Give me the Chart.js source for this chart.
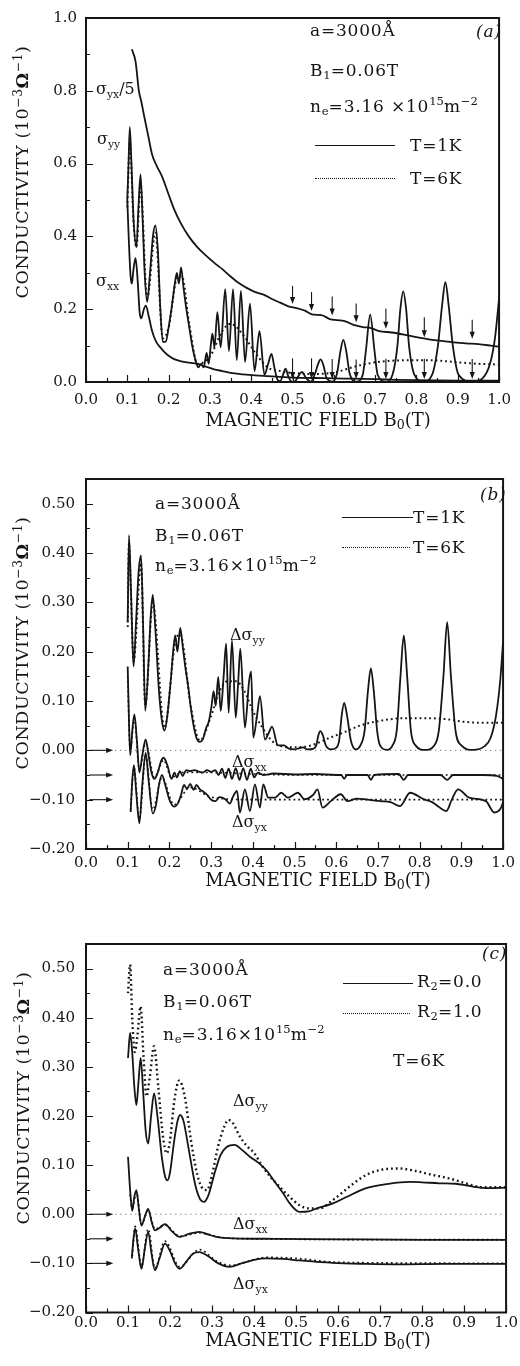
<!DOCTYPE html>
<html>
<head>
<meta charset="utf-8">
<script src="https://cdn.jsdelivr.net/npm/chart.js@4.4.1/dist/chart.umd.min.js"></script>
<style>
body{margin:0;background:#fff;width:520px;height:1366px;position:relative;overflow:hidden;font-family:"DejaVu Serif",serif;color:#151515}
.pane{position:absolute;left:0}
.t{position:absolute;white-space:nowrap;transform:translateY(-50%);font-size:17px;line-height:1;letter-spacing:0.8px}
.t sub{font-size:68%;vertical-align:-0.3em;letter-spacing:0}
.t sup{font-size:68%;vertical-align:0.55em;letter-spacing:0}
.s{font-size:16px;letter-spacing:0}
.it{font-style:italic}
.ytitle{position:absolute;white-space:nowrap;font-size:17.5px;line-height:1;letter-spacing:0.6px;transform:translate(-50%,-50%) rotate(-90deg)}
.ytitle sup{font-size:70%;vertical-align:0.5em}
.xtitle{position:absolute;white-space:nowrap;font-size:18px;line-height:1;transform:translate(-50%,-50%)}
.xtitle sub{font-size:70%;vertical-align:-0.25em}
.leg{position:absolute;height:0;border-top:1.3px solid #151515}
.leg.dot{border-top:1.3px dotted #151515}
</style>
</head>
<body>

<canvas id="chartA" class="pane" width="520" height="412" style="top:0px"></canvas>
<canvas id="chartB" class="pane" width="520" height="440" style="top:440px"></canvas>
<canvas id="chartC" class="pane" width="520" height="440" style="top:900px"></canvas>

<!-- panel (a) texts -->
<div class="ytitle" style="left:22px;top:172px">CONDUCTIVITY (10<sup>−3</sup><b>Ω</b><sup>−1</sup>)</div>
<div class="xtitle" style="left:318px;top:421px">MAGNETIC FIELD B<sub>0</sub>(T)</div>
<div class="t" style="left:310px;top:30px">a=3000Å</div>
<div class="t it" style="left:476px;top:31px">(a)</div>
<div class="t" style="left:310px;top:72px">B<sub>1</sub>=0.06T</div>
<div class="t" style="left:310px;top:107px">n<sub>e</sub>=3.16 ×10<sup>15</sup>m<sup>−2</sup></div>
<div class="leg" style="left:315px;top:145px;width:80px"></div>
<div class="t" style="left:410px;top:145px">T=1K</div>
<div class="leg dot" style="left:315px;top:178px;width:80px"></div>
<div class="t" style="left:410px;top:178px">T=6K</div>
<div class="t s" style="left:96px;top:91px">σ<sub>yx</sub>/5</div>
<div class="t s" style="left:97px;top:141px">σ<sub>yy</sub></div>
<div class="t s" style="left:96px;top:283px">σ<sub>xx</sub></div>

<!-- panel (b) texts -->
<div class="ytitle" style="left:22px;top:643px">CONDUCTIVITY (10<sup>−3</sup><b>Ω</b><sup>−1</sup>)</div>
<div class="xtitle" style="left:318px;top:881px">MAGNETIC FIELD B<sub>0</sub>(T)</div>
<div class="t" style="left:155px;top:503px">a=3000Å</div>
<div class="t" style="left:155px;top:537px">B<sub>1</sub>=0.06T</div>
<div class="t" style="left:155px;top:566px">n<sub>e</sub>=3.16×10<sup>15</sup>m<sup>−2</sup></div>
<div class="t it" style="left:480px;top:494px">(b)</div>
<div class="leg" style="left:342px;top:517px;width:71px"></div>
<div class="t" style="left:413px;top:517px">T=1K</div>
<div class="leg dot" style="left:342px;top:547px;width:68px"></div>
<div class="t" style="left:413px;top:547px">T=6K</div>
<div class="t s" style="left:230px;top:637px">Δσ<sub>yy</sub></div>
<div class="t s" style="left:232px;top:764px">Δσ<sub>xx</sub></div>
<div class="t s" style="left:232px;top:824px">Δσ<sub>yx</sub></div>

<!-- panel (c) texts -->
<div class="ytitle" style="left:23px;top:1098px">CONDUCTIVITY (10<sup>−3</sup><b>Ω</b><sup>−1</sup>)</div>
<div class="xtitle" style="left:318px;top:1341px">MAGNETIC FIELD B<sub>0</sub>(T)</div>
<div class="t" style="left:163px;top:969px">a=3000Å</div>
<div class="t" style="left:163px;top:1003px">B<sub>1</sub>=0.06T</div>
<div class="t" style="left:163px;top:1035px">n<sub>e</sub>=3.16×10<sup>15</sup>m<sup>−2</sup></div>
<div class="t it" style="left:482px;top:953px">(c)</div>
<div class="leg" style="left:343px;top:983px;width:70px"></div>
<div class="t" style="left:417px;top:983px">R<sub>2</sub>=0.0</div>
<div class="leg dot" style="left:343px;top:1013px;width:67px"></div>
<div class="t" style="left:417px;top:1013px">R<sub>2</sub>=1.0</div>
<div class="t" style="left:393px;top:1060px">T=6K</div>
<div class="t s" style="left:233px;top:1103px">Δσ<sub>yy</sub></div>
<div class="t s" style="left:233px;top:1226px">Δσ<sub>xx</sub></div>
<div class="t s" style="left:233px;top:1286px">Δσ<sub>yx</sub></div>

<script>
// ---- panel (a): conductivities vs B0, [B0 (T), value] ----
const aSyx5 = [[0.111,0.914],[0.120,0.880],[0.128,0.800],[0.134,0.770],[0.140,0.735],[0.150,0.680],[0.160,0.625],[0.172,0.592],[0.184,0.565],[0.200,0.515],[0.215,0.470],[0.230,0.435],[0.250,0.398],[0.270,0.370],[0.290,0.348],[0.310,0.328],[0.330,0.310],[0.350,0.290],[0.370,0.272],[0.390,0.258],[0.410,0.247],[0.430,0.240],[0.450,0.228],[0.470,0.218],[0.490,0.208],[0.510,0.203],[0.530,0.196],[0.550,0.185],[0.570,0.184],[0.590,0.173],[0.610,0.170],[0.630,0.166],[0.650,0.156],[0.670,0.151],[0.690,0.148],[0.710,0.140],[0.740,0.136],[0.770,0.130],[0.800,0.123],[0.830,0.117],[0.860,0.113],[0.890,0.109],[0.920,0.106],[0.950,0.104],[0.980,0.100],[1.000,0.097]];
const aSyyT1 = [[0.100,0.50],[0.103,0.60],[0.106,0.70],[0.110,0.60],[0.115,0.45],[0.122,0.37],[0.127,0.48],[0.132,0.57],[0.137,0.45],[0.142,0.30],[0.148,0.22],[0.155,0.30],[0.162,0.40],[0.168,0.43],[0.174,0.36],[0.180,0.20],[0.186,0.11],[0.193,0.11],[0.200,0.15],[0.208,0.21],[0.215,0.27],[0.220,0.30],[0.225,0.27],[0.230,0.315],[0.236,0.26],[0.243,0.20],[0.250,0.15],[0.257,0.10],[0.265,0.06],[0.272,0.04],[0.278,0.05],[0.285,0.04],[0.292,0.08],[0.297,0.05],[0.302,0.10],[0.306,0.133],[0.311,0.095],[0.318,0.192],[0.326,0.095],[0.337,0.255],[0.346,0.085],[0.356,0.255],[0.365,0.06],[0.375,0.25],[0.385,0.055],[0.397,0.215],[0.408,0.03],[0.420,0.14],[0.432,0.02],[0.441,0.05],[0.449,0.077],[0.456,0.04],[0.463,0.008],[0.470,0.002],[0.477,0.02],[0.483,0.037],[0.490,0.015],[0.497,0.002],[0.505,0.001],[0.515,0.018],[0.523,0.028],[0.532,0.012],[0.544,0.001],[0.555,0.025],[0.562,0.050],[0.568,0.062],[0.575,0.045],[0.582,0.012],[0.596,0.001],[0.608,0.025],[0.616,0.085],[0.623,0.116],[0.630,0.085],[0.638,0.025],[0.655,0.001],[0.670,0.020],[0.678,0.090],[0.688,0.185],[0.698,0.090],[0.706,0.020],[0.726,0.001],[0.742,0.020],[0.754,0.100],[0.761,0.200],[0.768,0.249],[0.775,0.200],[0.782,0.100],[0.795,0.020],[0.817,0.001],[0.838,0.020],[0.852,0.100],[0.862,0.210],[0.870,0.274],[0.878,0.210],[0.888,0.100],[0.902,0.020],[0.936,0.001],[0.960,0.010],[0.978,0.050],[0.990,0.120],[1.000,0.230]];
const aSyyT6 = [[0.100,0.48],[0.106,0.66],[0.115,0.44],[0.122,0.37],[0.132,0.54],[0.148,0.23],[0.168,0.41],[0.186,0.12],[0.200,0.15],[0.222,0.29],[0.232,0.29],[0.250,0.16],[0.270,0.05],[0.300,0.07],[0.330,0.14],[0.350,0.16],[0.380,0.13],[0.410,0.08],[0.440,0.040],[0.470,0.030],[0.500,0.025],[0.550,0.022],[0.600,0.026],[0.650,0.042],[0.700,0.054],[0.750,0.059],[0.800,0.060],[0.850,0.059],[0.900,0.054],[0.950,0.050],[1.000,0.048]];
const aSxxT1 = [[0.100,0.50],[0.104,0.38],[0.108,0.29],[0.111,0.27],[0.115,0.31],[0.120,0.34],[0.125,0.28],[0.130,0.19],[0.134,0.175],[0.140,0.20],[0.145,0.21],[0.152,0.18],[0.160,0.14],[0.170,0.11],[0.180,0.095],[0.190,0.082],[0.200,0.072],[0.215,0.062],[0.230,0.057],[0.250,0.053],[0.270,0.050],[0.290,0.042],[0.310,0.035],[0.330,0.030],[0.350,0.025],[0.380,0.021],[0.410,0.018],[0.440,0.016],[0.470,0.014],[0.500,0.012],[0.550,0.011],[0.600,0.010],[0.650,0.009],[0.700,0.008],[0.750,0.006],[0.800,0.005],[0.900,0.004],[1.000,0.004]];
// arrows in (a): B0 positions, start and end values
const aArrowB = [0.500, 0.546, 0.596, 0.654, 0.726, 0.819, 0.935];
const aArrowUpFrom = [0.264, 0.247, 0.235, 0.216, 0.202, 0.178, 0.171];
const aArrowUpTo = [0.214, 0.195, 0.183, 0.164, 0.146, 0.123, 0.119];
const aArrowLowFrom = [0.065, 0.065, 0.063, 0.062, 0.064, 0.064, 0.063];
const aArrowLowTo = [0.008, 0.008, 0.008, 0.008, 0.008, 0.008, 0.008];

// ---- panel (b): T=1K and T=6K ----
const bYyT1 = [[0.100,0.26],[0.103,0.436],[0.108,0.32],[0.114,0.17],[0.120,0.26],[0.126,0.36],[0.132,0.395],[0.137,0.25],[0.142,0.08],[0.150,0.18],[0.155,0.27],[0.160,0.315],[0.166,0.25],[0.175,0.12],[0.182,0.06],[0.188,0.04],[0.195,0.07],[0.203,0.14],[0.210,0.21],[0.214,0.233],[0.219,0.20],[0.226,0.248],[0.232,0.21],[0.239,0.163],[0.245,0.13],[0.251,0.088],[0.258,0.05],[0.265,0.025],[0.273,0.017],[0.280,0.022],[0.288,0.045],[0.295,0.06],[0.301,0.09],[0.306,0.12],[0.311,0.09],[0.317,0.149],[0.323,0.08],[0.330,0.15],[0.336,0.216],[0.342,0.076],[0.350,0.223],[0.359,0.066],[0.365,0.14],[0.370,0.206],[0.381,0.046],[0.391,0.14],[0.396,0.16],[0.401,0.026],[0.410,0.07],[0.417,0.11],[0.429,0.022],[0.438,0.035],[0.446,0.048],[0.460,0.010],[0.475,0.010],[0.485,0.004],[0.500,0.002],[0.510,0.004],[0.520,0.006],[0.530,0.002],[0.545,0.003],[0.552,0.010],[0.557,0.030],[0.562,0.039],[0.568,0.030],[0.575,0.010],[0.587,0.002],[0.600,0.005],[0.607,0.020],[0.613,0.070],[0.619,0.096],[0.626,0.070],[0.635,0.020],[0.647,0.002],[0.658,0.010],[0.668,0.040],[0.676,0.120],[0.683,0.166],[0.690,0.120],[0.698,0.040],[0.705,0.010],[0.722,0.001],[0.735,0.010],[0.745,0.040],[0.754,0.150],[0.762,0.233],[0.770,0.150],[0.779,0.040],[0.790,0.010],[0.813,0.001],[0.835,0.010],[0.846,0.040],[0.857,0.150],[0.866,0.260],[0.875,0.150],[0.886,0.040],[0.900,0.010],[0.928,0.001],[0.955,0.008],[0.970,0.025],[0.983,0.070],[0.993,0.140],[1.000,0.220]];
const bYyT6 = [[0.100,0.25],[0.103,0.42],[0.108,0.31],[0.114,0.18],[0.132,0.38],[0.142,0.09],[0.160,0.30],[0.188,0.045],[0.214,0.22],[0.226,0.235],[0.251,0.09],[0.273,0.02],[0.300,0.07],[0.320,0.12],[0.340,0.14],[0.360,0.14],[0.380,0.12],[0.400,0.08],[0.420,0.05],[0.445,0.02],[0.470,0.008],[0.500,0.006],[0.540,0.010],[0.580,0.024],[0.620,0.037],[0.660,0.051],[0.700,0.059],[0.760,0.065],[0.820,0.065],[0.866,0.063],[0.904,0.058],[0.950,0.056],[1.000,0.056]];
const bXxT1 = [[0.100,0.17],[0.103,0.06],[0.106,-0.01],[0.111,0.04],[0.116,0.073],[0.122,0.02],[0.128,-0.045],[0.135,-0.01],[0.143,0.022],[0.150,-0.01],[0.157,-0.045],[0.164,-0.058],[0.172,-0.045],[0.180,-0.022],[0.186,-0.015],[0.195,-0.03],[0.205,-0.058],[0.212,-0.045],[0.218,-0.055],[0.225,-0.042],[0.232,-0.052],[0.240,-0.040],[0.250,-0.042],[0.260,-0.040],[0.270,-0.043],[0.280,-0.045],[0.290,-0.040],[0.300,-0.044],[0.310,-0.040],[0.318,-0.050],[0.326,-0.037],[0.334,-0.056],[0.342,-0.037],[0.350,-0.058],[0.359,-0.036],[0.368,-0.060],[0.377,-0.036],[0.386,-0.060],[0.395,-0.037],[0.403,-0.055],[0.412,-0.045],[0.425,-0.050],[0.450,-0.047],[0.500,-0.049],[0.550,-0.048],[0.600,-0.050],[0.612,-0.050],[0.619,-0.058],[0.626,-0.050],[0.675,-0.050],[0.683,-0.060],[0.691,-0.050],[0.750,-0.048],[0.762,-0.060],[0.772,-0.050],[0.850,-0.050],[0.866,-0.060],[0.880,-0.050],[0.950,-0.050],[0.985,-0.052],[1.000,-0.058]];
const bXxT6 = [[0.100,0.15],[0.106,0.00],[0.116,0.065],[0.128,-0.04],[0.143,0.015],[0.164,-0.055],[0.186,-0.02],[0.205,-0.055],[0.230,-0.045],[0.300,-0.045],[0.400,-0.048],[0.500,-0.050],[1.000,-0.050]];
const bYxT1 = [[0.107,-0.125],[0.111,-0.06],[0.115,-0.03],[0.120,-0.08],[0.128,-0.148],[0.135,-0.07],[0.143,-0.005],[0.150,-0.06],[0.160,-0.128],[0.168,-0.11],[0.175,-0.07],[0.182,-0.05],[0.190,-0.07],[0.200,-0.10],[0.211,-0.114],[0.220,-0.108],[0.228,-0.09],[0.235,-0.07],[0.242,-0.078],[0.250,-0.068],[0.258,-0.08],[0.265,-0.07],[0.272,-0.078],[0.280,-0.083],[0.290,-0.09],[0.300,-0.10],[0.310,-0.103],[0.320,-0.095],[0.334,-0.099],[0.345,-0.108],[0.352,-0.095],[0.362,-0.082],[0.369,-0.126],[0.381,-0.079],[0.393,-0.123],[0.405,-0.069],[0.417,-0.116],[0.425,-0.069],[0.437,-0.096],[0.453,-0.096],[0.468,-0.086],[0.484,-0.096],[0.508,-0.086],[0.524,-0.099],[0.545,-0.09],[0.555,-0.079],[0.567,-0.116],[0.587,-0.103],[0.611,-0.089],[0.627,-0.103],[0.650,-0.098],[0.666,-0.099],[0.706,-0.103],[0.730,-0.105],[0.753,-0.113],[0.777,-0.086],[0.809,-0.099],[0.830,-0.105],[0.848,-0.116],[0.864,-0.123],[0.877,-0.10],[0.892,-0.079],[0.919,-0.096],[0.959,-0.103],[0.979,-0.126],[0.994,-0.118],[1.000,-0.105]];
const bYxT6 = [[0.107,-0.12],[0.115,-0.035],[0.128,-0.14],[0.143,-0.01],[0.160,-0.12],[0.182,-0.055],[0.211,-0.11],[0.250,-0.075],[0.300,-0.095],[0.400,-0.100],[0.500,-0.100],[0.700,-0.100],[1.000,-0.100]];

// ---- panel (c): T=6K, R2=0.0 and R2=1.0 ----
const cYyR0 = [[0.100,0.318],[0.105,0.369],[0.110,0.33],[0.115,0.26],[0.120,0.222],[0.125,0.27],[0.130,0.318],[0.136,0.25],[0.142,0.17],[0.148,0.144],[0.155,0.20],[0.162,0.246],[0.170,0.20],[0.180,0.12],[0.188,0.078],[0.194,0.069],[0.200,0.085],[0.210,0.15],[0.218,0.19],[0.224,0.202],[0.232,0.19],[0.245,0.13],[0.260,0.06],[0.272,0.03],[0.281,0.025],[0.292,0.04],[0.305,0.08],[0.320,0.12],[0.335,0.137],[0.354,0.141],[0.370,0.132],[0.390,0.117],[0.410,0.105],[0.429,0.090],[0.450,0.065],[0.469,0.043],[0.485,0.022],[0.508,0.005],[0.530,0.006],[0.550,0.012],[0.588,0.022],[0.620,0.035],[0.667,0.053],[0.720,0.062],[0.770,0.066],[0.800,0.065],[0.841,0.063],[0.880,0.062],[0.904,0.059],[0.930,0.055],[0.952,0.053],[1.000,0.054]];
const cYyR1 = [[0.100,0.45],[0.105,0.508],[0.110,0.40],[0.116,0.33],[0.122,0.36],[0.130,0.423],[0.137,0.32],[0.144,0.24],[0.152,0.28],[0.162,0.342],[0.172,0.26],[0.183,0.16],[0.192,0.124],[0.200,0.15],[0.210,0.23],[0.222,0.272],[0.235,0.24],[0.250,0.15],[0.265,0.08],[0.278,0.052],[0.288,0.049],[0.300,0.08],[0.315,0.14],[0.330,0.18],[0.339,0.192],[0.350,0.185],[0.365,0.16],[0.385,0.137],[0.400,0.125],[0.421,0.096],[0.440,0.075],[0.461,0.056],[0.485,0.035],[0.509,0.018],[0.530,0.012],[0.556,0.012],[0.588,0.029],[0.627,0.056],[0.667,0.080],[0.706,0.091],[0.746,0.093],[0.785,0.088],[0.825,0.080],[0.864,0.073],[0.904,0.063],[0.943,0.055],[1.000,0.055]];
const cXxR0 = [[0.100,0.117],[0.105,0.05],[0.110,0.007],[0.115,0.035],[0.120,0.049],[0.126,0.01],[0.132,-0.023],[0.140,-0.005],[0.148,0.011],[0.156,-0.015],[0.164,-0.033],[0.175,-0.028],[0.188,-0.02],[0.205,-0.035],[0.223,-0.046],[0.245,-0.04],[0.270,-0.036],[0.290,-0.041],[0.310,-0.046],[0.350,-0.049],[0.450,-0.050],[0.600,-0.051],[0.800,-0.052],[1.000,-0.052]];
const cXxR1 = [[0.105,0.04],[0.110,0.012],[0.120,0.045],[0.132,-0.02],[0.148,0.008],[0.164,-0.03],[0.188,-0.022],[0.223,-0.045],[0.270,-0.038],[0.320,-0.047],[0.400,-0.050],[1.000,-0.052]];
const cYxR0 = [[0.109,-0.09],[0.113,-0.05],[0.117,-0.029],[0.124,-0.07],[0.132,-0.111],[0.140,-0.07],[0.148,-0.036],[0.156,-0.08],[0.164,-0.114],[0.175,-0.09],[0.188,-0.06],[0.200,-0.075],[0.212,-0.10],[0.223,-0.111],[0.240,-0.095],[0.255,-0.08],[0.270,-0.077],[0.290,-0.085],[0.315,-0.10],[0.342,-0.107],[0.370,-0.10],[0.400,-0.093],[0.429,-0.09],[0.470,-0.091],[0.508,-0.094],[0.587,-0.099],[0.666,-0.101],[0.745,-0.102],[0.850,-0.101],[1.000,-0.101]];
const cYxR1 = [[0.110,-0.085],[0.117,-0.025],[0.132,-0.106],[0.148,-0.03],[0.164,-0.11],[0.188,-0.055],[0.223,-0.107],[0.270,-0.072],[0.310,-0.095],[0.342,-0.104],[0.430,-0.088],[0.500,-0.090],[0.600,-0.098],[1.000,-0.100]];

// dotted zero reference and the offset markers (0, -0.05, -0.10) in (b) and (c)
const zeroLine = [[0.07,0],[1.0,0]];
const offsetLevels = [0, -0.05, -0.10];
const offsetArrowB = [0.008, 0.065];

const ink = '#151515';
const tickFont = {family: 'DejaVu Serif', size: 15};

function pts(a) { return a.map(p => ({x: p[0], y: p[1]})); }
function solid(d) {
    return {data: pts(d), borderColor: ink, borderWidth: 1.8, pointRadius: 0, cubicInterpolationMode: 'monotone'};
}
function dotted(d, w) {
    return {data: pts(d), borderColor: ink, borderWidth: w || 1.8, borderDash: [1.8, 3], pointRadius: 0, cubicInterpolationMode: 'monotone'};
}

// box, inward tick marks and arrows
const frame = {
    id: 'frame',
    afterDatasetsDraw(chart, args, opts) {
        const {ctx, chartArea: a, scales: {x, y}} = chart;
        ctx.save();
        ctx.strokeStyle = ink;
        ctx.fillStyle = ink;
        ctx.lineWidth = 1.2;
        ctx.beginPath();
        x.ticks.forEach(t => {
            const px = Math.round(x.getPixelForValue(t.value)) + 0.5;
            ctx.moveTo(px, a.bottom);
            ctx.lineTo(px, a.bottom - (t.label ? 7 : 4));
        });
        y.ticks.forEach(t => {
            const py = Math.round(y.getPixelForValue(t.value)) + 0.5;
            ctx.moveTo(a.left, py);
            ctx.lineTo(a.left + (t.label ? 7 : 4), py);
        });
        ctx.stroke();
        ctx.lineWidth = 2;
        ctx.strokeRect(a.left, a.top, a.right - a.left, a.bottom - a.top);

        ctx.lineWidth = 1.1;
        (opts.arrows || []).forEach(r => {
            const x1 = x.getPixelForValue(r[0]), y1 = y.getPixelForValue(r[1]);
            const x2 = x.getPixelForValue(r[2]), y2 = y.getPixelForValue(r[3]);
            const ang = Math.atan2(y2 - y1, x2 - x1);
            ctx.beginPath();
            ctx.moveTo(x1, y1);
            ctx.lineTo(x2 - 5 * Math.cos(ang), y2 - 5 * Math.sin(ang));
            ctx.stroke();
            ctx.beginPath();
            ctx.moveTo(x2, y2);
            ctx.lineTo(x2 - 7 * Math.cos(ang) + 2.6 * Math.sin(ang), y2 - 7 * Math.sin(ang) - 2.6 * Math.cos(ang));
            ctx.lineTo(x2 - 7 * Math.cos(ang) - 2.6 * Math.sin(ang), y2 - 7 * Math.sin(ang) + 2.6 * Math.cos(ang));
            ctx.closePath();
            ctx.fill();
        });
        ctx.restore();
    }
};

function fmtY1(v) {
    const k = Math.round(v * 10);
    return k % 2 === 0 ? (k / 10).toFixed(1) : '';
}
function fmtY2(v) {
    const k = Math.round(v * 100);
    if (k % 10 !== 0) return '';
    return (k < 0 ? '−' : '') + (Math.abs(k) / 100).toFixed(2);
}
function fmtX(v) {
    const k = Math.round(v * 100);
    return k % 10 === 0 ? (k / 100).toFixed(1) : '';
}

function makeChart(id, datasets, cfg) {
    return new Chart(document.getElementById(id), {
        type: 'line',
        data: {datasets: datasets},
        plugins: [frame],
        options: {
            responsive: false,
            animation: false,
            devicePixelRatio: 1,
            layout: {padding: {top: cfg.top, right: 13, left: 0, bottom: 0}},
            plugins: {
                legend: {display: false},
                tooltip: {enabled: false},
                frame: {arrows: cfg.arrows}
            },
            scales: {
                x: {
                    type: 'linear',
                    min: 0,
                    max: 1,
                    grid: {display: false, drawTicks: false},
                    border: {display: false},
                    afterFit: s => { s.height = cfg.xh; },
                    ticks: {stepSize: 0.05, autoSkip: false, maxRotation: 0, padding: cfg.xpad, color: ink, font: tickFont, callback: fmtX}
                },
                y: {
                    type: 'linear',
                    min: cfg.ymin,
                    max: cfg.ymax,
                    grid: {display: false, drawTicks: false},
                    border: {display: false},
                    afterFit: s => { s.width = 86; },
                    ticks: {stepSize: cfg.ystep, autoSkip: false, padding: cfg.ypad, color: ink, font: tickFont, callback: cfg.yfmt}
                }
            }
        }
    });
}

const arrowsA = [];
aArrowB.forEach((b, i) => {
    arrowsA.push([b, aArrowUpFrom[i], b, aArrowUpTo[i]]);
    arrowsA.push([b, aArrowLowFrom[i], b, aArrowLowTo[i]]);
});
const arrowsLeft = offsetLevels.map(v => [offsetArrowB[0], v, offsetArrowB[1], v]);

makeChart('chartA', [
    solid(aSyx5),
    solid(aSyyT1),
    solid(aSxxT1),
    dotted(aSyyT6, 2)
], {top: 15, xh: 30, xpad: 9, ymin: 0, ymax: 1, ystep: 0.1, ypad: 9, yfmt: fmtY1, arrows: arrowsA});

const zeroB = {data: pts(zeroLine), borderColor: '#555', borderWidth: 1, borderDash: [1, 4], pointRadius: 0};
const zeroC = {data: pts(zeroLine), borderColor: '#555', borderWidth: 1, borderDash: [1, 4], pointRadius: 0};

makeChart('chartB', [
    zeroB,
    solid(bYyT1),
    dotted(bYyT6, 2),
    solid(bXxT1),
    dotted(bXxT6, 1.6),
    solid(bYxT1),
    dotted(bYxT6, 1.6)
], {top: 39, xh: 31, xpad: 5, ymin: -0.2, ymax: 0.55, ystep: 0.05, ypad: 11, yfmt: fmtY2, arrows: arrowsLeft});

makeChart('chartC', [
    zeroC,
    solid(cYyR0),
    dotted(cYyR1, 2.4),
    solid(cXxR0),
    dotted(cXxR1, 1.8),
    solid(cYxR0),
    dotted(cYxR1, 1.8)
], {top: 44, xh: 27.5, xpad: 2, ymin: -0.2, ymax: 0.55, ystep: 0.05, ypad: 11, yfmt: fmtY2, arrows: arrowsLeft});
</script>
</body>
</html>
